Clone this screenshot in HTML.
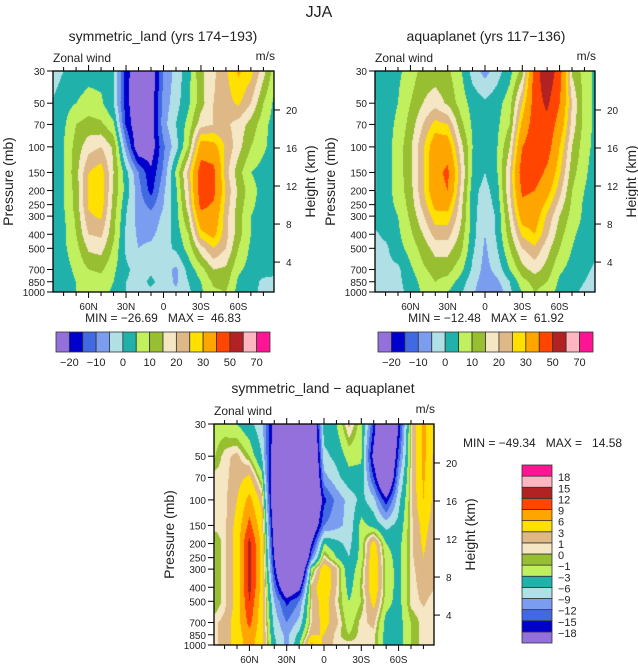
<!DOCTYPE html>
<html><head><meta charset="utf-8">
<style>
html,body{margin:0;padding:0;background:#fff;}
#wrap{position:relative;width:638px;height:664px;overflow:hidden;font-family:"Liberation Sans",sans-serif;}
canvas{position:absolute;}
svg{position:absolute;left:0;top:0;}
svg text{font-family:"Liberation Sans",sans-serif;fill:#222;white-space:pre;}
</style></head>
<body>
<div id="wrap">
<canvas id="c1" width="221" height="221" style="left:53px;top:71px"></canvas>
<canvas id="c2" width="220" height="221" style="left:375px;top:71px"></canvas>
<canvas id="c3" width="220" height="221" style="left:214px;top:424px"></canvas>
<svg id="ov" width="638" height="664"></svg>
</div>
<script>
// ---- data ----
const lats=[90,80,70,60,50,40,30,20,10,0,-10,-20,-30,-40,-50,-60,-70,-80,-90];
const pres=[30,50,70,100,150,200,250,300,400,500,700,850,1000];
const landU=[
[-3,0,2,3,3,1,-18,-25,-25,-10,-3,3,14,19,24,31,27,17,6],
[0,3,5,7,6,0,-18,-26,-24,-8,-2,4,13,20,23,26,20,10,3],
[1,4,10,12,11,6,-16,-26,-24,-7,0,7,18,20,21,18,13,7,2],
[2,5,12,18,20,14,-8,-26,-24,-11,-2,10,34,33,24,17,10,6,2],
[2,5,13,25,28,15,2,-10,-19,-9,6,22,46,43,22,12,5,3,2],
[2,5,12,26,29,14,3,-8,-17,-6,4,20,46,43,24,14,7,3,2],
[2,5,12,26,28,13,1,-7,-12,-5,3,18,43,39,23,13,6,3,2],
[2,4,11,24,26,12,0,-7,-8,-4,3,15,37,36,22,12,5,3,2],
[2,4,10,20,21,11,-1,-6,-6,-3,2,10,28,32,22,12,5,3,2],
[2,4,8,16,17,9,-1,-5,-4,-2,1,7,18,25,20,10,4,3,2],
[2,3,6,10,11,6,1,-2,-1,-3,-6,2,8,15,14,6,3,2,1],
[2,3,5,7,8,5,0,-2,1,-2,-6,0,5,11,12,4,2,-1,-1],
[2,3,5,6,7,4,0,-1,-1,-2,-4,-1,4,9,10,3,1,-1,-1]];
const aquaU=[
[2,3,4,7,12,12,11,6,-2,-7,-2,3,12,45,58,45,14,8,3],
[-1,3,5,10,15,18,14,8,3,1,3,8,25,45,52,40,20,8,3],
[-1,3,6,12,20,27,25,12,4,2,4,10,32,46,47,36,18,8,3],
[-1,3,7,14,24,35,35,18,5,2,5,15,40,47,45,30,15,7,3],
[-1,3,7,14,24,37,42,22,4,0,5,20,46,45,38,26,12,6,2],
[-1,3,7,13,24,36,40,20,2,-2,3,20,42,40,33,22,10,5,2],
[2,3,6,12,22,32,33,18,2,-3,2,18,38,36,28,18,9,4,2],
[2,3,5,11,19,28,28,17,2,-4,1,16,34,34,24,15,8,4,2],
[-1,1,4,9,15,22,22,14,2,-5,1,13,26,30,21,12,6,3,2],
[-1,-1,3,7,12,17,17,12,1,-6,0,10,20,24,17,10,5,2,1],
[-2,-1,-1,4,9,12,12,7,-1,-7,-3,5,13,17,13,6,3,1,-1],
[-2,-2,-1,2,7,10,8,3,-3,-8,-6,0,8,12,10,4,2,0,-2],
[-2,-2,-1,1,6,8,5,1,-4,-9,-9,-1,5,10,8,3,1,-1,-2]];
const diffU=[
[-2,-2,-3,-5,-8,-20,-32,-35,-28,-4,-3,1.5,-2,-15,-35,-18,0.5,7,2],
[-1.5,0.5,1.5,-1,-6,-22,-36,-40,-30,-7,-5,-2,-2.5,-20,-32,-14,0.5,7,1.5],
[0.5,0.5,2,3.5,-2,-25,-38,-40,-32,-10,-7,-4,-4,-15,-30,-10,0.5,6.5,1.5],
[0.5,0.5,3,7,2,-25,-40,-40,-30,-16,-11,-8,-5,-8,-17,-7,0.5,6,1.5],
[0.5,0.5,4,10,4,-22,-40,-40,-25,-12,-10,-8,-2,-4,-7,-5,0.5,4,1.5],
[-1.5,0.5,4,13,5,-20,-40,-40,-18,-3,-5,-7,-2,4.5,-3,-4,0.5,3.5,1],
[-1.5,0.5,4,13,5,-18,-38,-38,-12,1,-3,-6,-2,5.5,-2,-4,0.5,3,1],
[-1.5,0.5,4,13,5,-16,-35,-32,-2,5,1.5,-5,-1,5.5,-1.5,-4,0.5,2,1],
[-1.5,0.5,4,13,5,-12,-25,-20,1.5,5.5,1,-4,-0.5,5.5,-1.5,-4,0.5,1.5,1],
[-1.5,0.5,4,12,4,-9,-16,-12,1,4.5,0.5,-3,-1,4,-2,-4,0.5,1.2,0.5],
[0.5,1.5,4.5,10,4,-7,-12,-8,1,4,1.5,-2,0.5,1.5,-4,-4,-1,0.5,0.5],
[0.5,1.5,4.5,8,4,-6,-10,-5,3,3,0.5,-1,0.5,0.5,-4,-4,-1,0.5,0.5],
[0.5,1.5,4.5,7.5,4,-5,-10,-3,7,2,0.5,0.5,0.5,0.5,-4,-4,-1,0.5,0.5]];
const levelsAbs=[-20,-15,-10,-5,0,5,10,15,20,25,30,40,50,60,70];
const levelsDiff=[-18,-15,-12,-9,-6,-3,-1,0,1,3,6,9,12,15,18];
const colors=['#9370DB','#0000CD','#4169E1','#7B9DF0','#B0E0E6','#20B2AA','#C0F05E','#98BE32','#F5E6C4','#DEB887','#FFE000','#FFA500','#FF4500','#B22222','#FFB6C1','#FF1493'];
const absLabels=['-20','','-10','','0','','10','','20','','30','','50','','70'];
const diffLabels=['\u221218','\u221215','\u221212','\u22129','\u22126','\u22123','\u22121','0','1','3','6','9','12','15','18'];
const pTicks=[30,50,70,100,150,200,250,300,400,500,700,850,1000];
const zTicks=[4,8,12,16,20];
const latTicks=[60,30,0,-30,-60];
const latTickLabels=['60N','30N','0','30S','60S'];

// ---- helpers ----
const NS='http://www.w3.org/2000/svg';
const ov=document.getElementById('ov');
function mk(tag,attrs,txt){const e=document.createElementNS(NS,tag);for(const k in attrs)e.setAttribute(k,attrs[k]);if(txt!==undefined)e.textContent=txt;ov.appendChild(e);return e;}
function colorIdx(v,lv){let i=0;while(i<lv.length&&v>=lv[i])i++;return i;}
function hex(c){return [parseInt(c.substr(1,2),16),parseInt(c.substr(3,2),16),parseInt(c.substr(5,2),16)];}
const rgb=colors.map(hex);
const L30=Math.log(30),L1000=Math.log(1000),LP=pres.map(p=>Math.log(p));
function sample(field,lat,lp){
  let fc=(90-lat)/10;if(fc<0)fc=0;if(fc>18)fc=18;
  let c0=Math.min(17,Math.floor(fc)),tc=fc-c0;
  let r0=0;while(r0<LP.length-2&&lp>LP[r0+1])r0++;
  let tr=(lp-LP[r0])/(LP[r0+1]-LP[r0]);tr=Math.max(0,Math.min(1,tr));
  const a=field[r0][c0],b=field[r0][c0+1],c=field[r0+1][c0],d=field[r0+1][c0+1];
  return (a*(1-tc)+b*tc)*(1-tr)+(c*(1-tc)+d*tc)*tr;
}
function render(id,field,lv){
  const cv=document.getElementById(id),ctx=cv.getContext('2d');
  const w=cv.width,h=cv.height,img=ctx.createImageData(w,h);
  for(let py=0;py<h;py++){const lp=L30+(py+0.5)/h*(L1000-L30);
    for(let px=0;px<w;px++){const lat=88.5-(px+0.5)/w*177;
      const col=rgb[colorIdx(sample(field,lat,lp),lv)];const o=(py*w+px)*4;
      img.data[o]=col[0];img.data[o+1]=col[1];img.data[o+2]=col[2];img.data[o+3]=255;}}
  ctx.putImageData(img,0,0);
}
function panel(x0,y0,w,h,title,titleX,titleY,name){
  const xOf=lat=>x0+(88.5-lat)/177*w;
  const yOf=p=>y0+Math.log(p/30)/Math.log(1000/30)*h;
  const yOfZ=z=>yOf(1137*Math.exp(-z/6.63));
  const r=mk('rect',{x:x0,y:y0,width:w,height:h,fill:'none',stroke:'#000','stroke-width':1.3});
  
  const t=mk('text',{x:titleX,y:titleY,'text-anchor':'middle','font-size':14},title);
  
  const zw=mk('text',{x:x0,y:y0-9,'font-size':12},'Zonal wind');
  
  const ms=mk('text',{x:x0+w+1,y:y0-11,'font-size':12,'text-anchor':'end'},'m/s');
  
  pTicks.forEach(p=>{const y=yOf(p);
    mk('line',{x1:x0-6,x2:x0,y1:y,y2:y,stroke:'#000','stroke-width':1});
    const l=mk('text',{x:x0-8,y:y+4,'font-size':10,'text-anchor':'end'},String(p));
    });
  zTicks.forEach(z=>{const y=yOfZ(z);
    mk('line',{x1:x0+w,x2:x0+w+6,y1:y,y2:y,stroke:'#000','stroke-width':1});
    const l=mk('text',{x:x0+w+12,y:y+4,'font-size':10},String(z));
    });
  for(let lat=80;lat>=-80;lat-=10){const x=xOf(lat);const maj=(lat%30===0);
    mk('line',{x1:x,x2:x,y1:y0,y2:y0-(maj?6:4),stroke:'#000','stroke-width':1});
    mk('line',{x1:x,x2:x,y1:y0+h,y2:y0+h+(maj?6:4),stroke:'#000','stroke-width':1});}
  latTicks.forEach((lat,i)=>{const l=mk('text',{x:xOf(lat),y:y0+h+18,'font-size':10,'text-anchor':'middle'},latTickLabels[i]);
    });
  const cy=y0+h/2;
  const pl=mk('text',{x:0,y:0,'font-size':14,'text-anchor':'middle',transform:`translate(${x0-40},${cy}) rotate(-90)`},'Pressure (mb)');
  
  const hl=mk('text',{x:0,y:0,'font-size':14,'text-anchor':'middle',transform:`translate(${x0+w+41},${cy}) rotate(-90)`},'Height (km)');
  
}
function hbar(x0,y0,w,h,name){
  const bw=w/colors.length;
  colors.forEach((c,i)=>{const r=mk('rect',{x:x0+i*bw,y:y0,width:bw,height:h,fill:c,stroke:'#333','stroke-width':0.8});
    });
  absLabels.forEach((s,i)=>{if(!s)return;const l=mk('text',{x:x0+(i+1)*bw,y:y0+h+14,'font-size':11,'text-anchor':'middle'},s.replace('-','\u2212'));
    });
}
function vbar(x0,y0,w,h,name){
  const bh=h/colors.length;
  colors.forEach((c,i)=>{const r=mk('rect',{x:x0,y:y0+h-(i+1)*bh,width:w,height:bh,fill:c,stroke:'#333','stroke-width':0.8});
    });
  diffLabels.forEach((s,i)=>{const l=mk('text',{x:x0+w+6,y:y0+h-(i+1)*bh+5,'font-size':11},s);
    });
}

render('c1',landU,levelsAbs);
render('c2',aquaU,levelsAbs);
render('c3',diffU,levelsDiff);

const jja=mk('text',{x:319,y:17,'font-size':16,'text-anchor':'middle'},'JJA');

panel(53,71,221,221,'symmetric_land (yrs 174\u2212193)',163,41,'land');
panel(375,71,220,221,'aquaplanet (yrs 117\u2212136)',486,41,'aqua');
panel(214,424,220,221,'symmetric_land \u2212 aquaplanet',323,393,'diff');
const m1=mk('text',{x:163,y:322,'font-size':12,'text-anchor':'middle'},'MIN = \u221226.69   MAX =  46.83');

const m2=mk('text',{x:486,y:322,'font-size':12,'text-anchor':'middle'},'MIN = \u221212.48   MAX =  61.92');

const m3=mk('text',{x:463,y:447,'font-size':12},'MIN = \u221249.34   MAX =   14.58');

hbar(56,332,214,20,'land-colorbar');
hbar(378,332,215,20,'aqua-colorbar');
vbar(522,465,30,178,'diff-colorbar');
</script>
</body></html>
